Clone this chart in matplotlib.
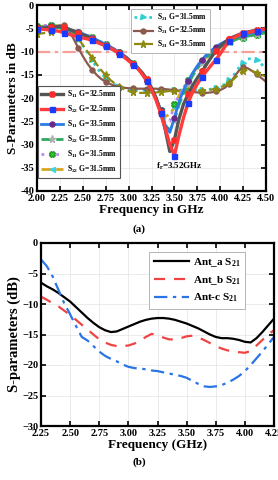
import numpy as np
import matplotlib
matplotlib.use("Agg")
import matplotlib.pyplot as plt

plt.rcParams['font.family'] = ['Liberation Serif', 'DejaVu Serif']
plt.rcParams['font.weight'] = 'bold'
plt.rcParams['mathtext.fontset'] = 'custom'
plt.rcParams['mathtext.rm'] = 'Liberation Serif:bold'
plt.rcParams['mathtext.it'] = 'Liberation Serif:bold'
plt.rcParams['mathtext.bf'] = 'Liberation Serif:bold'

# ---------------- panel (a) data ----------------
freq_a = np.round(np.arange(2.0, 4.501, 0.05), 2)

s11_325 = [-5.0, -5.0, -4.9, -4.8, -4.7, -4.6, -4.8, -5.2, -5.6, -6.0, -6.4, -6.8, -7.3, -7.8, -8.3, -8.8,
           -9.3, -9.8, -10.4, -11.0, -11.8, -12.6, -13.5, -14.6, -16.0, -17.8, -20.0, -23.0, -26.8, -31.5,
           -29.0, -24.5, -21.3, -19.2, -17.3, -15.7, -14.3, -12.8, -11.3, -9.9, -8.9, -8.0, -7.3, -6.8,
           -6.4, -6.0, -5.8, -5.6, -5.4, -5.2, -5.0]
s22_325 = [-5.2, -5.2, -5.3, -5.4, -5.5, -5.7, -6.0, -6.3, -6.6, -6.9, -7.1, -7.3, -7.6, -8.0, -8.4, -8.8,
           -9.3, -9.8, -10.5, -11.2, -12.0, -12.8, -13.7, -14.9, -16.4, -18.2, -20.5, -23.3, -26.5, -30.0,
           -32.4, -28.0, -24.2, -21.0, -18.7, -17.0, -15.5, -14.2, -13.0, -11.8, -10.5, -9.0, -7.8, -7.0,
           -6.5, -6.1, -5.9, -5.7, -5.5, -5.3, -5.1]
s11_335 = [-4.8, -4.8, -4.7, -4.6, -4.6, -4.7, -5.0, -5.3, -5.6, -5.9, -6.2, -6.6, -7.0, -7.5, -8.0, -8.5,
           -9.0, -9.6, -10.2, -10.9, -11.7, -12.6, -13.6, -14.8, -16.3, -18.0, -20.0, -22.6, -25.8, -27.4,
           -24.3, -20.8, -18.3, -16.3, -14.6, -13.1, -11.8, -10.7, -9.8, -9.1, -8.4, -7.9, -7.4, -7.0,
           -6.7, -6.4, -6.2, -6.0, -5.8, -5.6, -5.4]
s22_335 = [-5.0, -5.0, -4.9, -4.8, -4.8, -4.9, -5.1, -5.4, -5.7, -6.0, -6.3, -6.7, -7.1, -7.6, -8.1, -8.6,
           -9.1, -9.7, -10.3, -11.0, -11.8, -12.7, -13.7, -14.9, -16.4, -18.1, -20.2, -22.8, -25.8, -27.0,
           -24.8, -21.5, -19.0, -17.0, -15.2, -13.7, -12.4, -11.3, -10.4, -9.6, -9.0, -8.5, -8.0, -7.6,
           -7.2, -6.9, -6.7, -6.5, -6.3, -6.1, -6.0]
s11_315 = [-4.6, -4.5, -4.4, -4.3, -4.4, -4.6, -4.9, -5.2, -5.5, -5.8, -6.1, -6.5, -6.9, -7.4, -7.9, -8.4,
           -8.9, -9.5, -10.1, -10.8, -11.6, -12.5, -13.5, -14.7, -16.2, -18.0, -20.2, -22.6, -24.8, -25.0,
           -21.3, -19.5, -17.8, -16.2, -14.8, -13.4, -12.0, -10.9, -10.0, -9.3, -8.7, -8.2, -7.8, -7.5,
           -7.2, -7.0, -6.8, -6.6, -6.4, -6.2, -6.0]
s22_315 = [-4.8, -4.6, -4.4, -4.3, -4.4, -4.7, -5.0, -5.3, -5.6, -5.9, -6.2, -6.6, -7.0, -7.5, -8.0, -8.5,
           -9.0, -9.6, -10.2, -10.9, -11.7, -12.6, -13.6, -14.8, -16.3, -18.1, -20.2, -22.5, -24.0, -23.5,
           -22.0, -19.5, -17.8, -16.4, -14.8, -13.4, -12.2, -11.2, -10.4, -9.9, -9.2, -8.6, -8.0, -7.6,
           -7.2, -6.8, -6.5, -6.3, -6.2, -6.1, -6.0]
s21_315 = [-4.8, -4.7, -4.6, -4.5, -4.6, -4.8, -5.2, -5.8, -6.6, -7.6, -8.7, -10.2, -11.8, -13.4, -14.7, -15.7,
           -16.5, -17.1, -17.6, -17.9, -18.1, -18.2, -18.3, -18.3, -18.3, -18.3, -18.3, -18.3, -18.3, -18.3,
           -18.3, -18.3, -18.3, -18.3, -18.3, -18.3, -18.3, -18.2, -18.1, -17.9, -17.6, -17.0, -16.2, -15.0,
           -13.6, -12.4, -11.6, -11.5, -11.9, -12.7, -13.8]
s21_325 = [-5.0, -4.9, -4.8, -4.7, -4.5, -4.4, -4.4, -5.5, -7.3, -9.2, -11.0, -12.6, -13.9, -15.0, -15.9, -16.5,
           -17.0, -17.4, -17.6, -17.8, -17.9, -17.9, -18.0, -18.0, -18.0, -18.0, -18.0, -18.1, -18.1, -18.2,
           -18.3, -18.4, -18.5, -18.6, -18.7, -18.8, -18.9, -18.9, -18.8, -18.6, -18.3, -17.8, -16.9, -15.6,
           -14.2, -13.4, -13.6, -14.2, -14.9, -15.7, -16.5]
s21_335 = [-6.2, -6.1, -6.0, -5.9, -5.7, -5.5, -5.3, -5.5, -6.1, -7.2, -8.6, -10.0, -11.3, -12.7, -14.0, -15.1,
           -16.1, -16.9, -17.6, -18.1, -18.5, -18.8, -18.9, -18.9, -18.9, -18.9, -18.8, -18.7, -18.6, -18.5,
           -18.5, -18.5, -18.5, -18.5, -18.4, -18.4, -18.4, -18.3, -18.2, -18.0, -17.7, -17.3, -16.7, -15.9,
           -15.0, -14.2, -13.9, -14.2, -14.6, -15.0, -15.4]
threshold_db = -10

xticks_a = [2.00, 2.25, 2.50, 2.75, 3.00, 3.25, 3.50, 3.75, 4.00, 4.25, 4.50]
yticks_a = [0, -5, -10, -15, -20, -25, -30, -35, -40]

# ---------------- panel (b) data ----------------
freq_b = np.round(np.arange(2.25, 4.251, 0.05), 2)
ant_a = [-6.5, -7.1, -7.6, -8.2, -8.9, -9.6, -10.5, -11.4, -12.3, -13.1, -13.8, -14.3, -14.6, -14.5, -14.1,
         -13.7, -13.3, -12.9, -12.6, -12.4, -12.3, -12.3, -12.4, -12.6, -12.9, -13.2, -13.6, -14.0, -14.5,
         -15.0, -15.4, -15.6, -15.6, -15.7, -15.9, -16.2, -16.3, -15.6, -14.6, -13.5, -12.4]
ant_b = [-8.8, -9.3, -9.9, -10.4, -11.1, -11.8, -12.6, -13.4, -14.2, -15.0, -15.8, -16.3, -16.7, -16.9, -16.9,
         -16.8, -16.5, -16.0, -15.4, -14.9, -15.1, -15.5, -15.8, -15.8, -15.6, -15.3, -15.2, -15.5, -15.9,
         -16.4, -16.9, -17.3, -17.6, -17.8, -17.9, -18.0, -17.7, -16.8, -15.9, -15.0, -14.3]
ant_c = [-2.7, -3.8, -5.5, -7.7, -9.9, -11.7, -13.6, -15.4, -16.0, -16.9, -17.8, -18.5, -19.0, -19.4, -19.9,
         -20.3, -20.5, -20.6, -20.7, -20.9, -21.0, -21.2, -21.4, -21.6, -21.8, -22.1, -22.6, -23.1, -23.5,
         -23.6, -23.5, -23.3, -22.9, -22.4, -21.8, -21.0, -20.0, -18.9, -17.8, -16.6, -15.4]
xticks_b = [2.25, 2.50, 2.75, 3.00, 3.25, 3.50, 3.75, 4.00, 4.25]
yticks_b = [0, -5, -10, -15, -20, -25, -30]

W, H = 278, 480
fig = plt.figure(figsize=(W / 100, H / 100), dpi=100)

def box(x0, y0, x1, y1):
    return [x0 / W, 1 - y1 / H, (x1 - x0) / W, (y1 - y0) / H]

ax1 = fig.add_axes(box(37, 5, 266, 191))
ax2 = fig.add_axes(box(41, 243, 274, 426))

for ax in (ax1, ax2):
    for s in ax.spines.values():
        s.set_linewidth(1.6)
    ax.tick_params(direction='in', top=True, right=True, width=1.2, length=3.5, labelsize=7.5, pad=2)
    ax.grid(True, color='#e3e3e3', lw=0.5)
    ax.set_axisbelow(True)

ms = 3.6
ax1.axhline(threshold_db, color='#f6a09c', lw=1.6, ls=(0, (6, 2, 1.5, 2)))
l_s21_315, = ax1.plot(freq_a, s21_315, color='#2fd0d6', ls=':', lw=2, marker='>', ms=ms, markevery=(0, 3))
l_s21_325, = ax1.plot(freq_a, s21_325, color='#8a5a4e', ls='-', lw=1.6, marker='o', ms=ms, markevery=(0, 3))
l_s21_335, = ax1.plot(freq_a, s21_335, color='#8e8a10', ls='--', lw=1.6, marker='*', ms=ms + 1.5, markevery=(0, 3))

l6, = ax1.plot(freq_a, s22_315, color='#d9a520', ls='--', lw=2, marker='<', ms=ms, mfc='#36d6e6', mec='#36d6e6', markevery=(0, 3))
l5, = ax1.plot(freq_a, s11_315, color='#b48cf0', ls=':', lw=2, marker='X', ms=ms + 0.5, mfc='#3cf03c', mec='#20a020', markevery=(0, 3))
l4, = ax1.plot(freq_a, s22_335, color='#2fa860', ls='--', lw=2, marker='*', ms=ms + 1.5, mfc='#b0b0b0', mec='#b0b0b0', markevery=(0, 3))
l3, = ax1.plot(freq_a, s11_335, color='#2a7de6', ls='-', lw=2, marker='o', ms=ms, mfc='#6a2a8a', mec='#6a2a8a', markevery=(0, 3))
l1, = ax1.plot(freq_a, s11_325, color='#555555', ls='-', lw=2.4, marker='X', ms=ms + 0.5, mfc='#ff2a2a', mec='#ff2a2a', markevery=(0, 3))
l2, = ax1.plot(freq_a, s22_325, color='#ff3b3b', ls='-', lw=2.4, marker='s', ms=ms, mfc='#1a3cff', mec='#1a3cff', markevery=(0, 3))

ax1.set_xlim(2.0, 4.5)
ax1.set_ylim(-40, 0)
ax1.set_xticks(xticks_a)
ax1.set_xticklabels([f"{v:.2f}" for v in xticks_a])
ax1.set_yticks(yticks_a)
ax1.set_yticklabels([str(v) for v in yticks_a])
ax1.set_xlabel('Frequency in GHz', fontsize=9.5, fontweight='bold', labelpad=1)
ax1.set_ylabel('S-Parameters in dB', fontsize=9.5, fontweight='bold', labelpad=1)
ax1.text(3.56, -34.7, 'f$_\\mathrm{r}$=3.52GHz', fontsize=6.5, ha='center', va='center')

leg_top = ax1.legend([l_s21_315, l_s21_325, l_s21_335],
                     ['S$_{21}$ G=31.5mm', 'S$_{21}$ G=32.5mm', 'S$_{21}$ G=33.5mm'],
                     loc='upper left', bbox_to_anchor=(0.41, 0.98), borderaxespad=0, fontsize=5.5,
                     handlelength=2.6, labelspacing=0.35, handletextpad=0.5, borderpad=0.35,
                     fancybox=False, edgecolor='#aaaaaa', framealpha=1)
leg_top.get_frame().set_linewidth(0.6)
ax1.add_artist(leg_top)
leg_bot = ax1.legend([l1, l2, l3, l4, l5, l6],
                     ['S$_{11}$ G=32.5mm', 'S$_{22}$ G=32.5mm', 'S$_{11}$ G=33.5mm',
                      'S$_{22}$ G=33.5mm', 'S$_{11}$ G=31.5mm', 'S$_{22}$ G=31.5mm'],
                     loc='lower left', bbox_to_anchor=(0.005, 0.07), borderaxespad=0, fontsize=5.5,
                     handlelength=2.8, labelspacing=0.5, handletextpad=0.6, borderpad=0.4,
                     fancybox=False, edgecolor='#555555', framealpha=1)
leg_bot.get_frame().set_linewidth(0.8)

fig.text(139 / W, 1 - 229 / H, '(a)', fontsize=8, fontweight='bold', ha='center', va='center')

# ---------------- panel (b) ----------------
la, = ax2.plot(freq_b, ant_a, color='black', lw=1.6, ls='-')
lb, = ax2.plot(freq_b, ant_b, color='#f04444', lw=1.6, ls=(0, (5, 4)))
lc, = ax2.plot(freq_b, ant_c, color='#2a74e6', lw=1.6, ls=(0, (6, 2.5, 1.5, 2.5)))
ax2.set_xlim(2.25, 4.25)
ax2.set_ylim(-30, 0)
ax2.set_xticks(xticks_b)
ax2.set_xticklabels([f"{v:.2f}" for v in xticks_b])
ax2.set_yticks(yticks_b)
ax2.set_xlabel('Frequency (GHz)', fontsize=9.5, fontweight='bold', labelpad=1)
ax2.set_ylabel('S-parameters (dB)', fontsize=10.5, fontweight='bold', labelpad=1)
leg2 = ax2.legend([la, lb, lc], ['Ant_a S$_{21}$', 'Ant_b S$_{21}$', 'Ant-c S$_{21}$'],
                  loc='upper right', bbox_to_anchor=(0.876, 0.951), borderaxespad=0, fontsize=8,
                  handlelength=3.2, labelspacing=0.45, handletextpad=0.3, borderpad=0.4,
                  fancybox=False, edgecolor='#aaaaaa', framealpha=1)
leg2.get_frame().set_linewidth(0.6)
fig.text(139 / W, 1 - 462 / H, '(b)', fontsize=8, fontweight='bold', ha='center', va='center')

fig.savefig('out.png', dpi=100)
